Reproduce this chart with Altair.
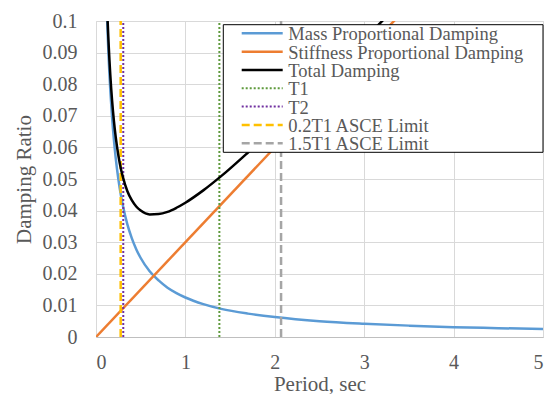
import altair as alt
import pandas as pd

# ---- data ----
T_MASS = [0.12, 0.13, 0.14, 0.15, 0.16, 0.18, 0.20, 0.22, 0.25, 0.28, 0.30, 0.35, 0.40, 0.45,
          0.50, 0.60, 0.70, 0.80, 0.90, 1.00, 1.20, 1.40, 1.70, 2.00, 2.50, 3.00, 3.50, 4.00,
          4.50, 5.00]
MASS = [0.1042, 0.0962, 0.0893, 0.0833, 0.0781, 0.0694, 0.0625, 0.0568, 0.0500, 0.0446, 0.0417,
        0.0357, 0.0313, 0.0278, 0.0250, 0.0208, 0.0179, 0.0156, 0.0139, 0.0125, 0.0104, 0.0089,
        0.0074, 0.0063, 0.0050, 0.0042, 0.0036, 0.0031, 0.0028, 0.0025]

T_TOTAL = [0.12, 0.13, 0.14, 0.15, 0.16, 0.18, 0.20, 0.22, 0.25, 0.28, 0.30, 0.35, 0.40, 0.45,
           0.50, 0.60, 0.70, 0.80, 0.90, 1.00, 1.20, 1.40, 1.70, 2.00, 2.50, 3.00, 3.50]
TOTAL = [0.1078, 0.1001, 0.0935, 0.0878, 0.0829, 0.0748, 0.0685, 0.0634, 0.0575, 0.0530, 0.0507,
         0.0462, 0.0433, 0.0413, 0.0400, 0.0388, 0.0389, 0.0396, 0.0409, 0.0425, 0.0464, 0.0509,
         0.0584, 0.0663, 0.0800, 0.0942, 0.1086]

T_STIFF = [0.0, 3.5]
STIFF = [0.0, 0.105]

VLINE_NAMES = ["T1", "T2", "0.2T1 ASCE Limit", "1.5T1 ASCE Limit"]
VLINE_T = [1.38, 0.305, 0.276, 2.07]

LEGEND_LABELS = ["Mass Proportional Damping", "Stiffness Proportional Damping", "Total Damping",
                 "T1", "T2", "0.2T1 ASCE Limit", "1.5T1 ASCE Limit"]

X_TICKS = [0, 1, 2, 3, 4, 5]
Y_TICKS = [0, 0.01, 0.02, 0.03, 0.04, 0.05, 0.06, 0.07, 0.08, 0.09, 0.1]

# ---- styles ----
FONT = "Liberation Serif"
GRAY_TXT = "#595959"
STYLES = {
    "Mass Proportional Damping": dict(color="#5B9BD5", dash=[1, 0], width=2.5),
    "Stiffness Proportional Damping": dict(color="#ED7D31", dash=[1, 0], width=2.5),
    "Total Damping": dict(color="#000000", dash=[1, 0], width=2.5),
    "T1": dict(color="#5E9A3C", dash=[2, 2], width=2),
    "T2": dict(color="#7030A0", dash=[2, 2], width=2),
    "0.2T1 ASCE Limit": dict(color="#FFC000", dash=[8, 4], width=2.5),
    "1.5T1 ASCE Limit": dict(color="#A5A5A5", dash=[8, 4], width=2.5),
}

W, H = 447, 316


def xenc():
    return alt.X("T:Q", scale=alt.Scale(domain=[0, 5], nice=False, zero=False),
                 axis=alt.Axis(values=X_TICKS, title="Period, sec", format="d",
                               domain=True, domainColor="#BFBFBF", domainWidth=1,
                               labelFont=FONT, titleFont=FONT,
                               labelPadding=15, titleX=W / 2, titleY=53,
                               titleBaseline="alphabetic", titleAlign="center"))


def yenc():
    return alt.Y("v:Q", scale=alt.Scale(domain=[0, 0.1], nice=False, zero=False),
                 axis=alt.Axis(values=Y_TICKS, title="Damping Ratio", format=".2~f",
                               domain=False, labelPadding=19,
                               labelFont=FONT, titleFont=FONT,
                               titleX=-66, titleY=H / 2, titleAngle=270,
                               titleBaseline="alphabetic", titleAlign="center"))


def curve(ts, vs, name):
    s = STYLES[name]
    df = pd.DataFrame({"T": ts, "v": vs})
    return alt.Chart(df).mark_line(clip=True, color=s["color"], strokeWidth=s["width"],
                                   interpolate="monotone").encode(x=xenc(), y=yenc())


layers = [
    curve(T_MASS, MASS, "Mass Proportional Damping"),
    curve(T_STIFF, STIFF, "Stiffness Proportional Damping"),
]

for name, t in zip(VLINE_NAMES, VLINE_T):
    s = STYLES[name]
    df = pd.DataFrame({"T": [t, t], "v": [0.0, 0.1]})
    layers.append(alt.Chart(df).mark_line(clip=True, color=s["color"], strokeWidth=s["width"],
                                          strokeDash=s["dash"]).encode(x=xenc(), y=yenc()))

layers.append(curve(T_TOTAL, TOTAL, "Total Damping"))

# ---- legend box (drawn over the lines, like the reference) ----
one = pd.DataFrame({"a": [0]})
layers.append(alt.Chart(one).mark_rect(fill="white", stroke="black", strokeWidth=1).encode(
    x=alt.value(127.3), x2=alt.value(447), y=alt.value(3.7), y2=alt.value(131.3)))

ROW0, ROWSTEP = 12.3, 18.33
for i, lab in enumerate(LEGEND_LABELS):
    s = STYLES[lab]
    yy = ROW0 + ROWSTEP * i
    layers.append(alt.Chart(one).mark_rule(color=s["color"], strokeWidth=s["width"],
                                           strokeDash=s["dash"]).encode(
        x=alt.value(145.7), x2=alt.value(186.7), y=alt.value(yy)))
    layers.append(alt.Chart(pd.DataFrame({"label": [lab]})).mark_text(
        align="left", baseline="alphabetic", font=FONT, fontSize=18.5, color=GRAY_TXT).encode(
        x=alt.value(192.3), y=alt.value(yy + 7), text="label:N"))

chart = alt.layer(*layers).properties(
    width=W, height=H,
    autosize=alt.AutoSizeParams(type="none"),
    padding={"left": 88, "top": 13, "right": 4, "bottom": 57},
).configure_view(stroke=None).configure(background="white", font=FONT).configure_axis(
    grid=True, gridColor="#D9D9D9", gridWidth=1, ticks=False,
    labelFont=FONT, labelFontSize=20, labelColor=GRAY_TXT,
    titleFont=FONT, titleFontSize=21, titleColor=GRAY_TXT, titleFontWeight="normal",
)

chart.save("out.html", embed_options={"renderer": "svg", "actions": False})
